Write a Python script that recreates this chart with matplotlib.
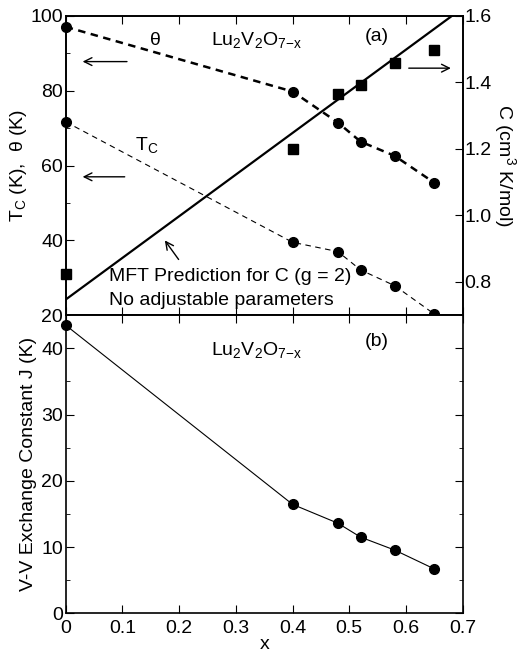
import matplotlib
matplotlib.use('Agg')
import matplotlib.pyplot as plt
from matplotlib.ticker import MultipleLocator, FuncFormatter, FixedLocator

plt.rcParams['font.family'] = ['Liberation Sans', 'DejaVu Sans']
plt.rcParams['mathtext.fontset'] = 'custom'
plt.rcParams['mathtext.rm'] = 'Liberation Sans'
plt.rcParams['mathtext.it'] = 'Liberation Sans'

# data
x_pts = [0.0, 0.40, 0.48, 0.52, 0.58, 0.65]
theta = [97.1, 79.8, 71.5, 66.4, 62.6, 55.4]
tc = [71.7, 39.5, 37.0, 32.1, 27.9, 20.3]
curie = [0.824, 1.20, 1.365, 1.393, 1.458, 1.498]
mft_x = [0.0, 0.7]
mft_c = [0.747, 1.624]
J = [43.5, 16.45, 13.6, 11.5, 9.55, 6.7]

FS = 14

fig = plt.figure(figsize=(5.17, 6.65), dpi=100)
ax1 = fig.add_axes([0.127, 0.526, 0.768, 0.45])
ax2 = fig.add_axes([0.127, 0.0777, 0.768, 0.4483])
axr = ax1.twinx()

# top panel
ax1.plot(x_pts, theta, 'k--', lw=1.8, dashes=(3, 2.2), marker='o', ms=7, clip_on=False, zorder=5)
ax1.plot(x_pts, tc, 'k--', lw=0.8, dashes=(5, 4), marker='o', ms=7, clip_on=False, zorder=5)
axr.plot(mft_x, mft_c, 'k-', lw=1.6)
axr.plot(x_pts, curie, 'ks', ls='none', ms=7.5, clip_on=False)

ax1.set_xlim(0, 0.7)
ax1.set_ylim(20, 100)
axr.set_ylim(0.70, 1.6)
ax1.xaxis.set_major_locator(MultipleLocator(0.1))
ax1.yaxis.set_major_locator(MultipleLocator(20))
ax1.yaxis.set_minor_locator(MultipleLocator(10))
axr.yaxis.set_major_locator(FixedLocator([0.8, 1.0, 1.2, 1.4, 1.6]))
axr.yaxis.set_major_formatter(FuncFormatter(lambda v, p: '%.1f' % v))
ax1.tick_params(axis='x', which='both', direction='in', top=True, labelbottom=False, length=6)
ax1.tick_params(axis='y', which='major', direction='in', length=6, labelsize=FS, pad=2)
ax1.tick_params(axis='y', which='minor', direction='in', length=3)
axr.tick_params(axis='y', direction='in', length=6, labelsize=FS, pad=1)

ax1.set_ylabel(r'T$_{\rm C}$ (K),  $\theta$ (K)', fontsize=FS, labelpad=1)
axr.set_ylabel(r'C (cm$^3$ K/mol)', fontsize=FS, rotation=270, labelpad=19)

ax1.text(0.158, 93.5, r'$\theta$', fontsize=FS, ha='center', va='center')
ax1.text(0.143, 65.5, r'T$_{\rm C}$', fontsize=FS, ha='center', va='center')
ax1.text(0.257, 93.5, r'Lu$_2$V$_2$O$_{7\mathrm{-x}}$', fontsize=FS, ha='left', va='center')
ax1.text(0.548, 94.5, '(a)', fontsize=FS, ha='center', va='center')
ax1.text(0.077, 30.3, 'MFT Prediction for C (g = 2)', fontsize=FS, ha='left', va='center')
ax1.text(0.077, 24.0, 'No adjustable parameters', fontsize=FS, ha='left', va='center')

arw = dict(arrowstyle='->', color='k', lw=1.0, mutation_scale=14)
ax1.annotate('', xy=(0.025, 87.8), xytext=(0.113, 87.8), arrowprops=arw)
ax1.annotate('', xy=(0.025, 57.0), xytext=(0.109, 57.0), arrowprops=arw)
ax1.annotate('', xy=(0.172, 40.6), xytext=(0.202, 34.3), arrowprops=arw)
axr.annotate('', xy=(0.684, 1.443), xytext=(0.60, 1.443), arrowprops=arw)

# bottom panel
ax2.plot(x_pts, J, 'k-', lw=0.8, marker='o', ms=7, clip_on=False, zorder=5)
ax2.set_xlim(0, 0.7)
ax2.set_ylim(0, 45)
ax2.xaxis.set_major_locator(MultipleLocator(0.1))
ax2.xaxis.set_major_formatter(FuncFormatter(lambda v, p: '0' if abs(v) < 1e-9 else '%.1f' % v))
ax2.yaxis.set_major_locator(MultipleLocator(10))
ax2.yaxis.set_minor_locator(MultipleLocator(5))
ax2.tick_params(axis='x', direction='in', top=True, length=6, labelsize=FS, pad=5)
ax2.tick_params(axis='y', which='major', direction='in', right=True, length=6, labelsize=FS, pad=2)
ax2.tick_params(axis='y', which='minor', direction='in', right=True, length=3)
ax2.set_xlabel('x', fontsize=FS, labelpad=-1)
ax2.set_ylabel('V-V Exchange Constant J (K)', fontsize=FS, labelpad=3)
ax2.text(0.257, 39.7, r'Lu$_2$V$_2$O$_{7\mathrm{-x}}$', fontsize=FS, ha='left', va='center')
ax2.text(0.548, 41.1, '(b)', fontsize=FS, ha='center', va='center')

for a in (ax1, ax2, axr):
    for s in a.spines.values():
        s.set_linewidth(1.2)

fig.savefig('out.png', dpi=100)
